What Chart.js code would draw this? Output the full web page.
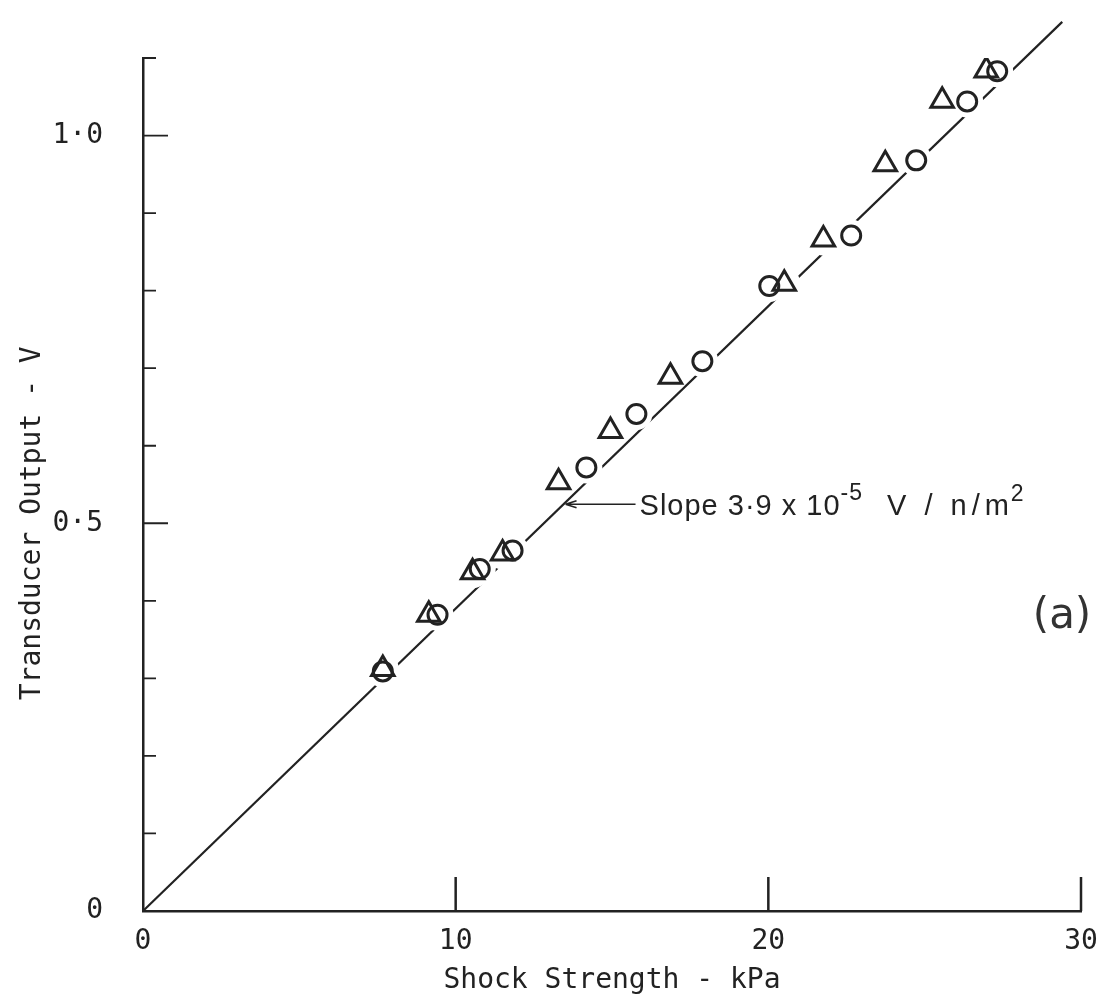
<!DOCTYPE html>
<html lang="en">
<head>
    <meta charset="UTF-8">
    <title>Transducer Calibration</title>
    <script src="https://cdn.jsdelivr.net/npm/chart.js@4.4.1/dist/chart.umd.min.js"></script>
    <style>
        html, body { margin: 0; padding: 0; background: #fff; }
        #wrap { width: 1097px; height: 1003px; }
    </style>
</head>
<body>
<div id="wrap"><canvas id="calChart" width="1097" height="1003"></canvas></div>
<script>
    // measured points (shock strength kPa, output V)
    const circleX = [7.67, 9.42, 10.77, 11.82, 14.18, 15.78, 17.89, 20.03, 22.65, 24.73, 26.36, 27.32];
    const circleY = [0.309, 0.382, 0.441, 0.465, 0.572, 0.641, 0.709, 0.806, 0.871, 0.968, 1.044, 1.083];
    const triangleX = [7.67, 9.14, 10.54, 11.50, 13.29, 14.95, 16.87, 20.51, 21.76, 23.74, 25.56, 26.97];
    const triangleY = [0.312, 0.382, 0.437, 0.461, 0.553, 0.619, 0.689, 0.809, 0.866, 0.963, 1.045, 1.084];

    // fitted line: slope 3.9e-5 V per N/m^2 = 0.039 V per kPa
    const slopePerPa = 3.9e-5;
    const fitX = [0, 29.4];
    const slopeArrowX = 13.45;

    // axes
    const xTickValues = [0, 10, 20, 30];
    const xTickLabels = ['0', '10', '20', '30'];
    const yTickValues = [0, 0.5, 1.0];
    const yTickLabels = ['0', '0·5', '1·0'];
    const yMinorTicks = [0.1, 0.2, 0.3, 0.4, 0.6, 0.7, 0.8, 0.9, 1.1];

    const ink = '#222';
    const slopeKPa = slopePerPa * 1000;

    const toPoints = (xs, ys) => xs.map((x, i) => ({ x: x, y: ys[i] }));
    const circlePts = toPoints(circleX, circleY);
    const trianglePts = toPoints(triangleX, triangleY);
    const fitPts = fitX.map(x => ({ x: x, y: x * slopeKPa }));

    // inward tick marks, axis titles, slope note and panel letter
    const paperMarks = {
        id: 'paperMarks',
        afterDraw(chart) {
            const ctx = chart.ctx;
            const xs = chart.scales.x, ys = chart.scales.y;
            const area = chart.chartArea;
            ctx.save();
            ctx.strokeStyle = ink;
            ctx.lineWidth = 2.5;
            ctx.beginPath();
            xTickValues.slice(1).forEach(v => {
                const px = xs.getPixelForValue(v);
                ctx.moveTo(px, area.bottom);
                ctx.lineTo(px, area.bottom - 34);
            });
            ctx.stroke();

            ctx.lineWidth = 1.8;
            ctx.beginPath();
            yMinorTicks.forEach(v => {
                const py = ys.getPixelForValue(v);
                ctx.moveTo(area.left, py);
                ctx.lineTo(area.left + 13, py);
            });
            yTickValues.slice(1).forEach(v => {
                const py = ys.getPixelForValue(v);
                ctx.moveTo(area.left, py);
                ctx.lineTo(area.left + 25, py);
            });
            ctx.stroke();

            // axis titles
            ctx.fillStyle = ink;
            ctx.font = '28px "DejaVu Sans Mono"';
            ctx.textAlign = 'center';
            ctx.textBaseline = 'alphabetic';
            ctx.fillText('Shock Strength - kPa', (area.left + area.right) / 2, 988);
            ctx.save();
            ctx.translate(40, ys.getPixelForValue(0.5));
            ctx.rotate(-Math.PI / 2);
            ctx.fillText('Transducer Output - V', 0, 0);
            ctx.restore();

            // slope arrow and note
            const tipX = xs.getPixelForValue(slopeArrowX) + 2;
            const tipY = ys.getPixelForValue(slopeArrowX * slopeKPa);
            ctx.lineWidth = 1.6;
            ctx.beginPath();
            ctx.moveTo(tipX, tipY);
            ctx.lineTo(tipX + 70, tipY);
            ctx.moveTo(tipX, tipY);
            ctx.lineTo(tipX + 11, tipY - 3.5);
            ctx.moveTo(tipX, tipY);
            ctx.lineTo(tipX + 11, tipY + 3.5);
            ctx.stroke();

            ctx.textAlign = 'left';
            let tx = tipX + 74;
            const base = tipY + 11;
            ctx.font = '29px "Liberation Sans"';
            ctx.letterSpacing = '1px';
            const part1 = 'Slope 3·9 x 10';
            ctx.fillText(part1, tx, base);
            tx += ctx.measureText(part1).width;
            ctx.font = '23px "Liberation Sans"';
            ctx.fillText('-5', tx, base - 15);
            tx += ctx.measureText('-5').width + 24;
            ctx.font = '29px "Liberation Sans"';
            ctx.letterSpacing = '5px';
            const part2 = 'V / n/m';
            ctx.fillText(part2, tx, base);
            tx += ctx.measureText(part2).width - 3;
            ctx.letterSpacing = '0px';
            ctx.font = '23px "Liberation Sans"';
            ctx.fillText('2', tx, base - 14);

            // panel letter
            ctx.font = '42px "DejaVu Sans"';
            ctx.textAlign = 'center';
            ctx.textBaseline = 'middle';
            ctx.fillStyle = '#333';
            ctx.fillText('(a)', 1062, 617);
            ctx.restore();
        }
    };

    const ctx = document.getElementById('calChart').getContext('2d');
    Chart.defaults.font.family = '"DejaVu Sans Mono"';
    Chart.defaults.font.size = 28;
    Chart.defaults.color = ink;

    new Chart(ctx, {
        type: 'scatter',
        data: {
            datasets: [
                {
                    label: 'circles',
                    data: circlePts,
                    pointStyle: 'circle',
                    pointRadius: 9.5,
                    backgroundColor: 'rgba(255,255,255,0)',
                    borderColor: ink,
                    borderWidth: 3,
                    order: 0
                },
                {
                    label: 'triangles',
                    data: trianglePts,
                    pointStyle: 'triangle',
                    pointRadius: 13,
                    backgroundColor: 'rgba(255,255,255,0)',
                    borderColor: ink,
                    borderWidth: 3,
                    order: 0
                },
                {
                    // white gaps where the line passes behind markers
                    label: 'gaps',
                    data: circlePts.concat(trianglePts),
                    pointStyle: 'circle',
                    pointRadius: 16,
                    backgroundColor: '#fff',
                    borderWidth: 0,
                    order: 1
                },
                {
                    label: 'fit',
                    data: fitPts,
                    showLine: true,
                    borderColor: ink,
                    borderWidth: 2.2,
                    pointRadius: 0,
                    clip: false,
                    order: 2
                }
            ]
        },
        options: {
            responsive: false,
            animation: false,
            events: [],
            layout: { padding: { top: 58, right: 15, left: 0, bottom: 0 } },
            plugins: {
                legend: { display: false },
                tooltip: { enabled: false }
            },
            scales: {
                x: {
                    type: 'linear',
                    min: 0,
                    max: 30,
                    afterFit: s => { s.height = 92; s.paddingLeft = 0; s.paddingRight = 0; },
                    afterBuildTicks: s => { s.ticks = xTickValues.map(v => ({ value: v })); },
                    ticks: {
                        padding: 14,
                        maxRotation: 0,
                        callback: (v, i) => xTickLabels[i]
                    },
                    grid: { display: true, drawOnChartArea: false, drawTicks: false },
                    border: { display: true, color: ink, width: 2.5 }
                },
                y: {
                    type: 'linear',
                    min: 0,
                    max: 1.1,
                    afterFit: s => { s.width = 143; s.paddingTop = 0; s.paddingBottom = 0; },
                    afterBuildTicks: s => { s.ticks = yTickValues.map(v => ({ value: v })); },
                    ticks: {
                        padding: 40,
                        callback: (v, i) => yTickLabels[i]
                    },
                    grid: { display: true, drawOnChartArea: false, drawTicks: false },
                    border: { display: true, color: ink, width: 2.5 }
                }
            }
        },
        plugins: [paperMarks]
    });
</script>
</body>
</html>
